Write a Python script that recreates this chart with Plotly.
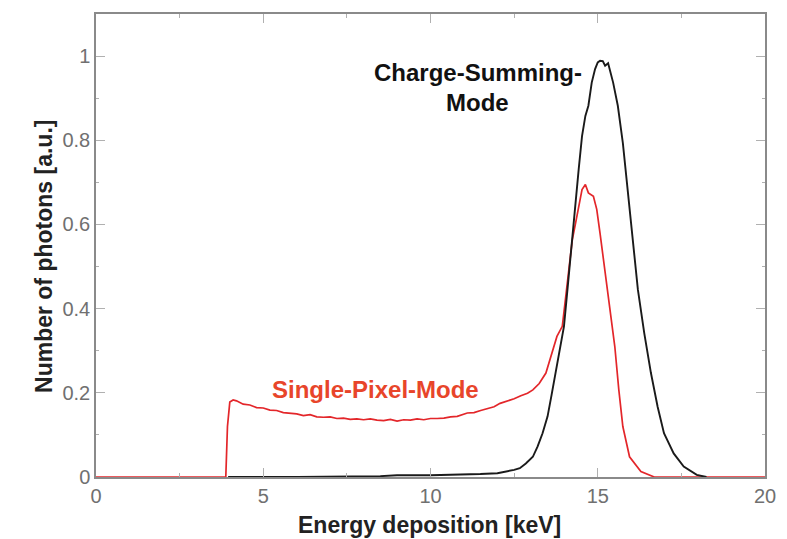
import plotly.graph_objects as go

# Single-Pixel-Mode spectrum (energy keV, normalized counts)
spm_energy = [0.0, 3.88, 3.93, 4.0, 4.1, 4.2, 4.4, 4.6, 4.8, 5.0, 5.2, 5.4, 5.6, 5.8, 6.0,
              6.2, 6.4, 6.6, 6.8, 7.0, 7.2, 7.4, 7.6, 7.8, 8.0, 8.2, 8.4, 8.6, 8.8, 9.0,
              9.2, 9.4, 9.6, 9.8, 10.0, 10.2, 10.4, 10.6, 10.8, 11.1, 11.3, 11.5, 11.7,
              11.9, 12.08, 12.3, 12.5, 12.7, 12.9, 13.06, 13.25, 13.45, 13.6, 13.78, 13.94,
              14.09, 14.24, 14.33, 14.43, 14.53, 14.63, 14.72, 14.87, 14.97, 15.07, 15.22,
              15.36, 15.51, 15.63, 15.75, 15.95, 16.29, 16.69, 20.0]
spm_counts = [0.0, 0.0, 0.12, 0.178, 0.183, 0.181, 0.173, 0.171, 0.165, 0.164, 0.159, 0.158,
              0.153, 0.151, 0.150, 0.146, 0.148, 0.143, 0.142, 0.143, 0.139, 0.140, 0.137,
              0.138, 0.136, 0.138, 0.135, 0.134, 0.137, 0.133, 0.136, 0.135, 0.138, 0.136,
              0.139, 0.139, 0.140, 0.143, 0.144, 0.152, 0.153, 0.158, 0.162, 0.167, 0.175,
              0.180, 0.186, 0.193, 0.199, 0.207, 0.222, 0.247, 0.285, 0.334, 0.358, 0.461,
              0.564, 0.60, 0.644, 0.683, 0.695, 0.675, 0.667, 0.636, 0.578, 0.485, 0.405,
              0.31, 0.207, 0.12, 0.048, 0.013, 0.0, 0.0]

# Charge-Summing-Mode spectrum
csm_energy = [3.95, 6.0, 8.5, 9.0, 10.0, 11.0, 11.49, 12.0, 12.27, 12.5, 12.67, 12.85,
              13.06, 13.2, 13.35, 13.5, 13.62, 13.74, 13.85, 13.99, 14.1, 14.21, 14.33,
              14.43, 14.53, 14.63, 14.72, 14.82, 14.92, 15.0, 15.07, 15.15, 15.22, 15.31,
              15.46, 15.6, 15.75, 15.9, 16.05, 16.2, 16.39, 16.59, 16.79, 16.98, 17.27,
              17.57, 17.96, 18.25]
csm_counts = [0.0, 0.0, 0.002, 0.004, 0.004, 0.005, 0.007, 0.009, 0.013, 0.017, 0.021, 0.032,
              0.048, 0.072, 0.104, 0.144, 0.195, 0.25, 0.30, 0.358, 0.45, 0.548, 0.636,
              0.731, 0.81, 0.858, 0.882, 0.937, 0.969, 0.985, 0.989, 0.988, 0.977, 0.983,
              0.937, 0.882, 0.794, 0.675, 0.556, 0.445, 0.342, 0.247, 0.167, 0.104, 0.056,
              0.025, 0.005, 0.0]

x_ticks = [0, 5, 10, 15, 20]
y_ticks = [0, 0.2, 0.4, 0.6, 0.8, 1]
y_tick_text = ["0", "0.2", "0.4", "0.6", "0.8", "1"]

fig = go.Figure()
fig.add_trace(go.Scatter(x=spm_energy, y=spm_counts, mode="lines",
                         line=dict(color="#e3262a", width=1.7), name="Single-Pixel-Mode"))
fig.add_trace(go.Scatter(x=csm_energy, y=csm_counts, mode="lines",
                         line=dict(color="#1a1a1a", width=1.9), name="Charge-Summing-Mode"))

axis_common = dict(showgrid=False, zeroline=False, showline=True, linecolor="#8a8a8a",
                   linewidth=1.5, mirror="ticks", ticks="inside", tickcolor="#b0b0b0",
                   ticklen=9, tickwidth=1,
                   tickfont=dict(family="Liberation Sans, Arial", size=20, color="#707070"))

fig.update_xaxes(range=[0, 20], tickvals=x_ticks,
                 minor=dict(tickvals=[2.5, 7.5, 12.5, 17.5], ticks="inside", ticklen=4,
                            tickcolor="#b0b0b0"),
                 **axis_common)
fig.update_yaxes(range=[0, 1.1], tickvals=y_ticks, ticktext=y_tick_text,
                 minor=dict(tickvals=[0.1, 0.3, 0.5, 0.7, 0.9], ticks="inside", ticklen=3,
                            tickcolor="#b0b0b0"),
                 **axis_common)

title_font = dict(family="Liberation Sans, Arial", size=23, color="#222222")
ann_font_black = dict(family="Liberation Sans, Arial", size=24, color="#111111")
ann_font_red = dict(family="Liberation Sans, Arial", size=24, color="#e8452a")

fig.update_layout(
    width=787, height=539,
    margin=dict(l=96, r=11, t=14, b=62),
    paper_bgcolor="white", plot_bgcolor="white",
    showlegend=False,
    annotations=[
        dict(text="<b>Energy deposition [keV]</b>", xref="paper", yref="paper",
             x=0.498, y=-0.104, xanchor="center", yanchor="middle", showarrow=False,
             font=title_font),
        dict(text="<b>Number of photons [a.u.]</b>", xref="paper", yref="paper",
             x=-0.078, y=0.477, xanchor="center", yanchor="middle", textangle=-90,
             showarrow=False, font=title_font),
        dict(text="<b>Charge-Summing-</b>", xref="x", yref="y", x=11.41, y=0.962,
             xanchor="center", yanchor="middle", showarrow=False, font=ann_font_black),
        dict(text="<b>Mode</b>", xref="x", yref="y", x=11.41, y=0.89,
             xanchor="center", yanchor="middle", showarrow=False, font=ann_font_black),
        dict(text="<b>Single-Pixel-Mode</b>", xref="x", yref="y", x=8.36, y=0.207,
             xanchor="center", yanchor="middle", showarrow=False, font=ann_font_red),
    ],
)

fig.write_html("out.html")
